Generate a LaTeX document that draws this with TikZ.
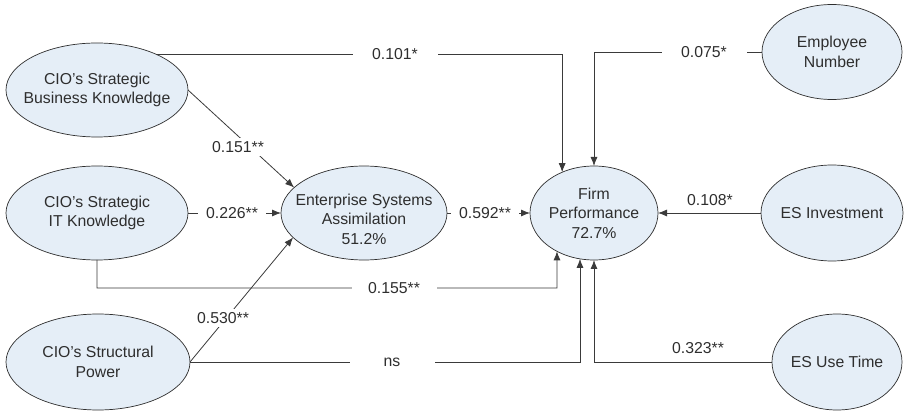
\documentclass[tikz,border=0pt]{standalone}
\usepackage{fontspec}
\setmainfont{Liberation Sans}
\usetikzlibrary{arrows.meta,shapes.geometric}
\definecolor{ellfill}{HTML}{E5EEF7}
\definecolor{ink}{HTML}{2E2E2E}
\definecolor{wire}{HTML}{3A3A3A}

\begin{document}
\begin{tikzpicture}[x=1pt,y=-1pt,
  construct/.style={ellipse, draw=ink, line width=0.7pt, fill=ellfill,
    inner sep=0pt, outer sep=0pt},
  caption/.style={align=center, text=ink, inner sep=0pt,
    font=\fontsize{15.8}{19.5}\selectfont},
  link/.style={draw=wire, line width=0.8pt},
  arr/.style={link, -{Latex[length=9pt,width=7pt]}},
  coef/.style={fill=white, text=ink, inner ysep=3pt, inner xsep=8pt,
    font=\fontsize{15.8}{19.5}\selectfont},
  gapcoef/.style={coef, minimum width=85pt},
  plaincoef/.style={text=ink, inner sep=0pt,
    font=\fontsize{15.8}{19.5}\selectfont},
]
\useasboundingbox (0,0) rectangle (904,411);

% constructs
\node[construct, minimum width=182, minimum height=94] (BK) at (97,90) {};
\node[construct, minimum width=182, minimum height=94] (IT) at (97,213) {};
\node[construct, minimum width=184, minimum height=96] (SP) at (98,362) {};
\node[construct, minimum width=166, minimum height=94] (ESA) at (364,213) {};
\node[construct, minimum width=128, minimum height=94] (FP) at (594,213) {};
\node[construct, minimum width=140, minimum height=95] (EN) at (832,52) {};
\node[construct, minimum width=142, minimum height=96] (ESI) at (832,213) {};
\node[construct, minimum width=130, minimum height=96] (EUT) at (837,362) {};

\node[caption] (BKt) at (BK) {CIO’s Strategic\\Business Knowledge};
\node[caption] (ITt) at (IT) {CIO’s Strategic\\IT Knowledge};
\node[caption] (SPt) at (SP) {CIO’s Structural\\Power};
\node[caption] (ESAt) at (364,219) {Enterprise Systems\\Assimilation\\51.2\%};
\node[caption] (FPt) at (FP) {Firm\\Performance\\72.7\%};
\node[caption] (ENt) at (EN) {Employee\\Number};
\node[caption] (ESIt) at (ESI) {ES Investment};
\node[caption] (EUTt) at (EUT) {ES Use Time};

% paths into the mediator
\draw[arr] (BK.east) -- (ESA.160);
\draw[arr] (IT.east) -- (ESA.west);
\draw[arr] (SP.east) -- (ESA.199.5);

% paths into firm performance
\draw[arr] (ESA.east) -- (FP.west);
\draw[arr] (BK.31.6) -| (FP.128.2);
\draw[arr] (EN.west) -| (FP.north);
\draw[arr] (ESI.west) -- (FP.east);
\coordinate (itbend) at (557,288);
\draw[arr] (IT.south) |- (itbend) -- (FP.226);
\draw[arr] (SP.east) -| (FP.253);
\draw[arr] (EUT.west) -| (FP.south);

% path coefficients
\node[coef] (c151) at (238,147) {0.151**};
\node[coef] (c530) at (223,318) {0.530**};
\node[coef] (c226) at (232,213) {0.226**};
\node[coef] (c592) at (485,213) {0.592**};
\node[gapcoef] (c101) at (395,54) {0.101*};
\node[gapcoef] (c075) at (704,52) {0.075*};
\node[gapcoef] (c155) at (394,288) {0.155**};
\node[gapcoef] (cns) at (392,362) {ns};
\node[plaincoef] (c108) at (710,200) {0.108*};
\node[plaincoef] (c323) at (698,348) {0.323**};
\end{tikzpicture}
\end{document}
